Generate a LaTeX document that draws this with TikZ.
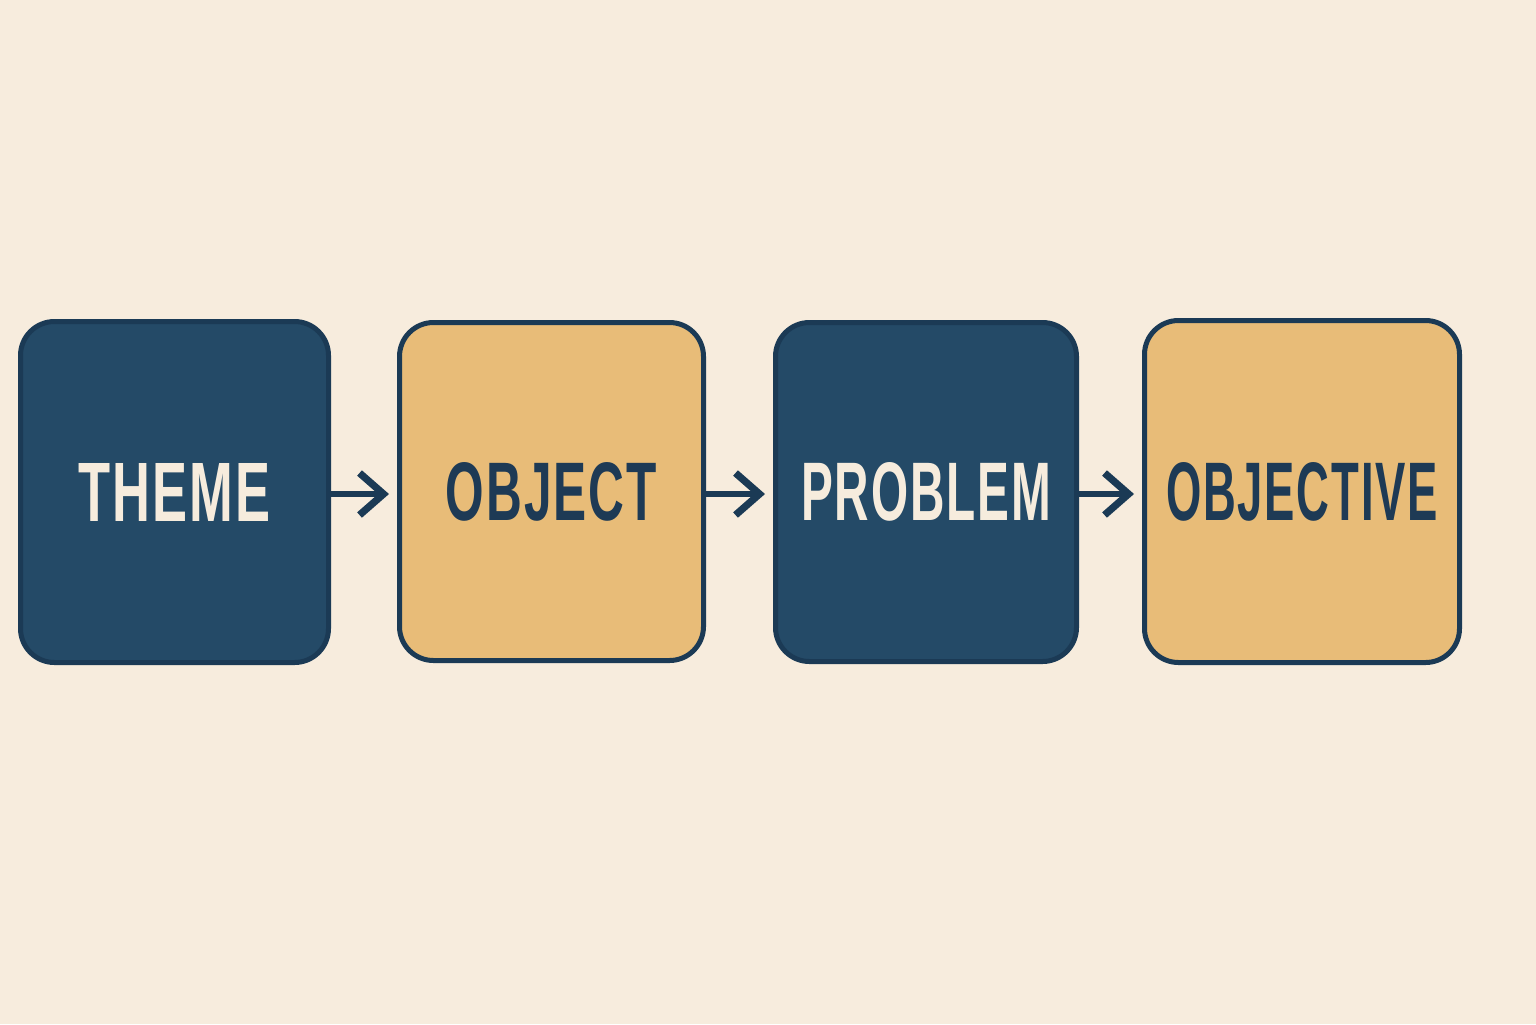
\documentclass[tikz,border=0pt]{standalone}
\usepackage{fontspec}
\usepackage{graphicx}
\setmainfont{Liberation Sans}
\usetikzlibrary{arrows.meta}
\definecolor{bgc}{HTML}{F7ECDD}
\definecolor{navy}{HTML}{244A67}
\definecolor{navyline}{HTML}{1B3A55}
\definecolor{tan}{HTML}{E8BC78}
\definecolor{cream}{HTML}{F6ECDD}
\definecolor{darktext}{HTML}{1E3A55}
\tikzset{
  card/.style={draw=navyline, line width=2.5pt, rounded corners=17pt, inner sep=0pt, anchor=center},
  navycard/.style={card, fill=navy, text=cream},
  tancard/.style={card, fill=tan, text=darktext},
  flow/.style={draw=navyline, line width=3pt, -{Straight Barb[length=12pt, width=21pt, line width=3.6pt]}, shorten >=4pt}
}
\newcommand{\lbl}[2]{\raisebox{-1pt}{\resizebox{#1}{29pt}{\bfseries\addfontfeature{LetterSpace=4}#2}}}
\begin{document}
\begin{tikzpicture}[x=0.5pt,y=-0.5pt]
\fill[bgc] (0,0) rectangle (1536,1024);
\useasboundingbox (0,0) rectangle (1536,1024);
\node[navycard, minimum width=154pt, minimum height=170.5pt] (theme) at (174.5,492) {\lbl{96pt}{THEME}};
\node[tancard, minimum width=152pt, minimum height=169pt] (object) at (551.5,491.5) {\lbl{105.5pt}{OBJECT}};
\node[navycard, minimum width=150.5pt, minimum height=169.5pt] (problem) at (926,492) {\lbl{125pt}{PROBLEM}};
\node[tancard, minimum width=157.5pt, minimum height=171pt] (objective) at (1302,491.5) {\lbl{136pt}{OBJECTIVE}};
\draw[flow] (theme.east |- 0,494) -- (object.west |- 0,494);
\draw[flow] (object.east |- 0,494) -- (problem.west |- 0,494);
\draw[flow] (problem.east |- 0,494) -- (objective.west |- 0,494);
\end{tikzpicture}
\end{document}
